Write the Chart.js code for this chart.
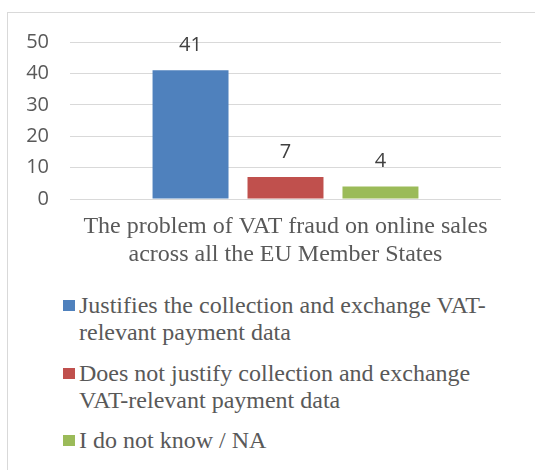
<!DOCTYPE html>
<html>
<head>
<meta charset="utf-8">
<script src="https://cdn.jsdelivr.net/npm/chart.js@4/dist/chart.umd.min.js"></script>
<style>
  body { margin: 0; background: #fff; width: 535px; height: 470px; overflow: hidden; position: relative; }
  #frame { position: absolute; left: 7px; top: 12px; width: 600px; height: 600px; border: 1px solid #d9d9d9; }
  #wrap { position: absolute; left: 0; top: 0; width: 535px; height: 280px; }
  #legend { position: absolute; left: 63px; top: 292px; font-family: "Liberation Serif", serif; font-size: 24px; line-height: 27px; color: #595959; }
  .item { display: flex; align-items: flex-start; margin-bottom: 13.5px; }
  .box { width: 12px; height: 11px; margin-top: 8px; margin-right: 4px; flex: none; }
</style>
</head>
<body>
<div id="frame"></div>
<div id="wrap"><canvas id="chart"></canvas></div>
<div id="legend"></div>
<script>
const categories = [["The problem of VAT fraud on online sales", "across all the EU Member States"]];
const seriesNames = [
  ["Justifies the collection and exchange VAT-", "relevant payment data"],
  ["Does not justify collection and exchange", "VAT-relevant payment data"],
  ["I do not know / NA"]
];
const justifies = [41];
const notJustify = [7];
const dontKnow = [4];
const colors = ["#4F81BD", "#C0504D", "#9BBB59"];
const yTicks = [0, 10, 20, 30, 40, 50];

const values = [justifies, notJustify, dontKnow];

// value labels above each bar
const barLabels = {
  id: "barLabels",
  afterDatasetsDraw(chart) {
    const ctx = chart.ctx;
    ctx.save();
    ctx.font = '20px "Open Sans", sans-serif';
    ctx.fillStyle = "#404040";
    ctx.textAlign = "center";
    ctx.textBaseline = "middle";
    chart.data.datasets.forEach((ds, i) => {
      chart.getDatasetMeta(i).data.forEach((bar, j) => {
        ctx.fillText(ds.data[j], bar.x, bar.y - 25);
      });
    });
    ctx.restore();
  }
};

new Chart(document.getElementById("chart"), {
  type: "bar",
  data: {
    labels: categories,
    datasets: values.map((v, i) => ({
      label: seriesNames[i].join(""),
      data: v,
      backgroundColor: colors[i],
      categoryPercentage: 0.661,
      barPercentage: 0.8
    }))
  },
  options: {
    responsive: true,
    maintainAspectRatio: false,
    animation: false,
    layout: { padding: { left: 0, right: 34, top: 42, bottom: 0 } },
    plugins: { legend: { display: false }, tooltip: { enabled: false } },
    scales: {
      x: {
        grid: { display: false },
        border: { display: false },
        ticks: {
          color: "#595959",
          padding: 6,
          font: { family: '"Liberation Serif", serif', size: 24, lineHeight: 1.1667 }
        },
        afterFit(scale) { scale.height = 81; }
      },
      y: {
        min: 0,
        max: 50,
        afterBuildTicks(scale) { scale.ticks = yTicks.map(v => ({ value: v })); },
        grid: { color: "#d9d9d9", lineWidth: 1, drawTicks: false },
        border: { display: false },
        ticks: {
          color: "#595959",
          padding: 21,
          font: { family: '"Open Sans", sans-serif', size: 20 }
        },
        afterFit(scale) { scale.width = 70; }
      }
    }
  },
  plugins: [barLabels]
});

// legend
document.getElementById("legend").innerHTML = seriesNames.map((lines, i) =>
  `<div class="item"><div class="box" style="background:${colors[i]}"></div><div>${lines.join("<br>")}</div></div>`
).join("");
</script>
</body>
</html>
